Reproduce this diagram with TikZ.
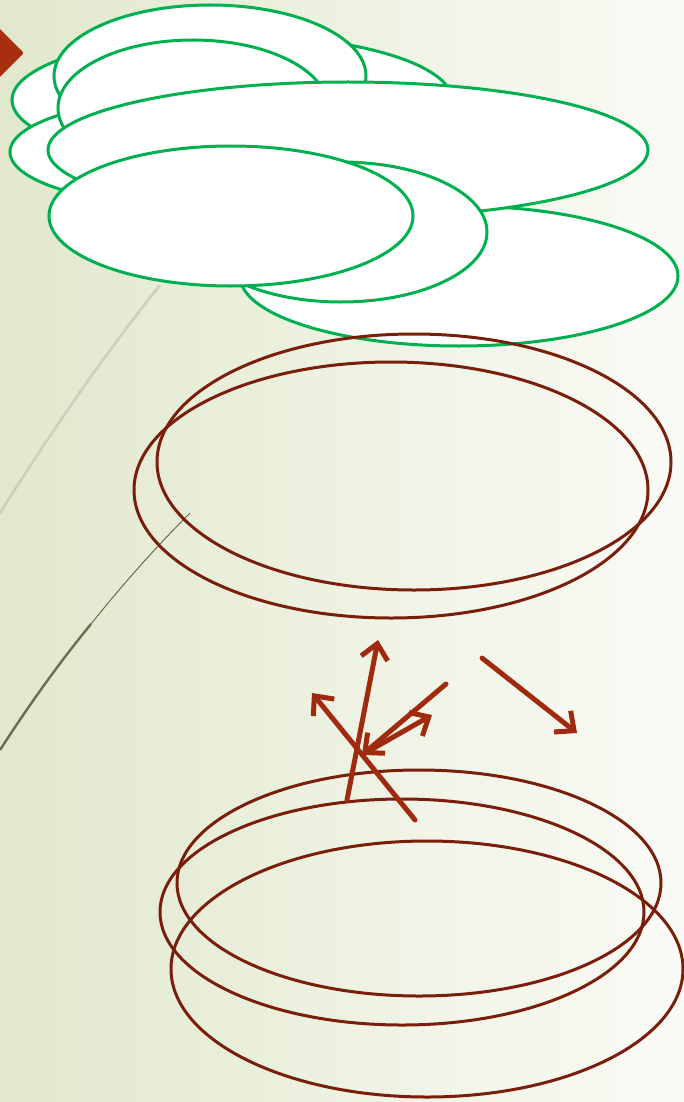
\documentclass[tikz,border=0pt]{standalone}
\usetikzlibrary{positioning, shapes.geometric, arrows.meta}
\definecolor{leafgreen}{RGB}{0,176,80}
\definecolor{rustline}{RGB}{122,30,12}
\definecolor{rustarrow}{RGB}{160,42,14}
\definecolor{rustmark}{RGB}{168,46,16}
\definecolor{bgleft}{RGB}{225,232,204}
\definecolor{bgright}{RGB}{250,251,246}
\definecolor{paletrace}{RGB}{205,208,186}
\definecolor{darktrace}{RGB}{112,106,82}

\begin{document}
\begin{tikzpicture}[x=1pt, y=-1pt,
        cloud/.style={draw=leafgreen, fill=white, ellipse, line width=3pt, inner sep=0pt},
        ring/.style={draw=rustline, ellipse, line width=3pt, inner sep=0pt},
        move/.style={-{Straight Barb[length=15pt, width=27pt]}, draw=rustarrow, line width=5pt, line cap=round}
    ]
    \useasboundingbox (0,0) rectangle (684,1102);
    \shade[left color=bgleft, right color=bgright] (0,0) rectangle (684,1102);

    \node[diamond, fill=rustmark, minimum width=52pt, minimum height=52pt, inner sep=0pt, rounded corners=2pt] (mark) at (-2,53) {};

    \draw[paletrace, line width=2.6pt] (160,285) .. controls (105,354) and (52,430) .. (0,513);
    \draw[darktrace, line width=1pt] (190,513) .. controls (156,547) and (123,584) .. (91,624);
    \draw[darktrace, line width=2.4pt] (91,624) .. controls (59,663) and (29,705) .. (0,750);

    \node[cloud, minimum width=440pt, minimum height=130pt] (backleft) at (232,100) {};
    \node[cloud, minimum width=380pt, minimum height=110pt] (lowleft) at (200,152) {};
    \node[cloud, minimum width=312pt, minimum height=142pt] (topcap) at (210,76) {};
    \node[cloud, minimum width=270pt, minimum height=136pt] (inner) at (193,108) {};
    \node[cloud, minimum width=438pt, minimum height=140pt] (lowright) at (459,276) {};
    \node[cloud, minimum width=600pt, minimum height=136pt] (wide) at (348,150) {};
    \node[cloud, minimum width=292pt, minimum height=140pt] (middle) at (341,232) {};
    \node[cloud, minimum width=364pt, minimum height=140pt] (front) at (231,216) {};

    \node[ring, minimum width=514pt, minimum height=256pt] (upperback) at (414,462) {};
    \node[ring, minimum width=514pt, minimum height=256pt] (upperfront) at (391,490) {};

    \node[ring, minimum width=484pt, minimum height=226pt] (lowertop) at (419,883) {};
    \node[ring, minimum width=484pt, minimum height=226pt] (lowermid) at (402,912) {};
    \node[ring, minimum width=512pt, minimum height=256pt] (lowerbase) at (427,969) {};

    \coordinate (upfoot) at (347,800);
    \coordinate (uptip) at (378,640);
    \coordinate (leftfoot) at (415,820);
    \coordinate (lefttip) at (312,693);
    \coordinate (downfoot) at (446,684);
    \coordinate (downtip) at (362,755);
    \coordinate (backfoot) at (367,752);
    \coordinate (backtip) at (432,715);
    \coordinate (awayfoot) at (482,658);
    \coordinate (awaytip) at (577,733);

    \draw[move] (upfoot) -- (uptip);
    \draw[move] (leftfoot) -- (lefttip);
    \draw[move] (downfoot) -- (downtip);
    \draw[move] (backfoot) -- (backtip);
    \draw[move] (awayfoot) -- (awaytip);
\end{tikzpicture}
\end{document}
